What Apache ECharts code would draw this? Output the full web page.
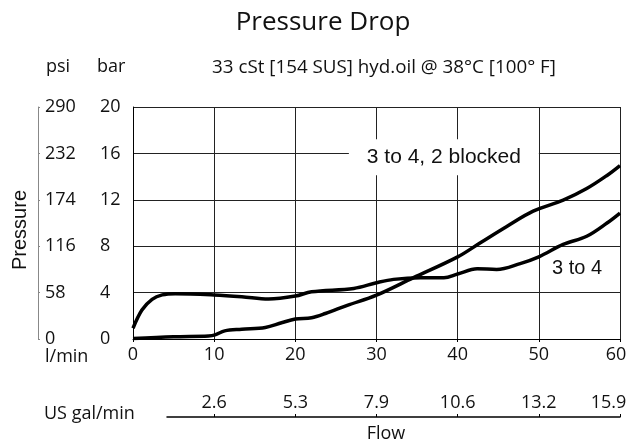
<!DOCTYPE html>
<html><head><meta charset="utf-8">
<script src="https://cdn.jsdelivr.net/npm/echarts@6/dist/echarts.min.js"></script>
<style>html,body{margin:0;padding:0;background:#fff}#c{width:628px;height:443px}</style>
</head><body><div id="c"></div>
<script>
// ---- data ----
const galTickFlow = [10, 20, 30, 40, 50, 60];
const galLabels = ['2.6', '5.3', '7.9', '10.6', '13.2', '15.9'];
const psiLabels = ['0', '58', '116', '174', '232', '290'];
const seriesNames = ['3 to 4, 2 blocked', '3 to 4'];
// flow (l/min), pressure (bar)
const blocked = [[0,0.05],[5,0.2],[9.3,0.26],[10.1,0.35],[11.3,0.7],[13.4,0.84],[16.3,1.0],[18.3,1.4],[20,1.72],[22,1.84],[23.7,2.2],[26.4,2.9],[30,3.78],[34.5,5.27],[40,7.08],[42.8,8.3],[46,9.68],[49.3,11.02],[53,11.97],[55.9,12.97],[58.4,14.1],[60,14.95]];
const open34 = [[0,0.93],[1.1,2.5],[2.35,3.42],[3.6,3.8],[5.2,3.9],[10,3.8],[13.4,3.65],[16.7,3.45],[20,3.7],[22,4.07],[27.2,4.36],[30,4.85],[32.1,5.14],[35.4,5.28],[38.3,5.28],[40,5.6],[42.4,6.05],[44.8,6.0],[47.7,6.5],[50,7.08],[53,8.15],[55.9,8.86],[58.4,10.0],[60,10.86]];

const F = '"Open Sans", sans-serif';
const A = '"Liberation Sans", Arial, sans-serif';
const mainLeft = 133, plotRight = 620, galLeft = 167;
const galMin = (galLeft - mainLeft) / (plotRight - mainLeft) * 60;

const chart = echarts.init(document.getElementById('c'), null, {renderer: 'canvas'});
const gridColor = '#222';
chart.setOption({
  animation: false,
  grid: [
    {left: mainLeft, right: 628 - plotRight, top: 107, bottom: 104, containLabel: false, outerBoundsMode: 'none'},
    {left: galLeft, right: 628 - plotRight, top: 417, bottom: 25, containLabel: false, outerBoundsMode: 'none'}
  ],
  xAxis: [
    {type: 'value', gridIndex: 0, min: 0, max: 60, interval: 10,
     axisLine: {show: true, lineStyle: {color: '#000', width: 1}},
     axisTick: {show: true, length: 3, lineStyle: {color: '#000'}},
     axisLabel: {margin: 7, color: '#111', fontFamily: F, fontSize: 18,
       formatter: v => v === 60 ? v + '{p|}' : String(v), rich: {p: {width: 8}}},
     splitLine: {show: true, lineStyle: {color: gridColor, width: 1}}},
    {type: 'value', gridIndex: 1, position: 'top', min: galMin, max: 60,
     axisLine: {show: true, onZero: false, lineStyle: {color: '#000', width: 1.5}},
     axisTick: {show: true, length: 3, customValues: galTickFlow, lineStyle: {color: '#000'}},
     axisLabel: {margin: 5, color: '#111', fontFamily: F, fontSize: 18, customValues: galTickFlow,
       rich: {p: {width: 23}},
       formatter: v => { const i = galTickFlow.indexOf(Math.round(v)); if (i < 0) return ''; return i === galLabels.length - 1 ? galLabels[i] + '{p|}' : galLabels[i]; }},
     splitLine: {show: false}}
  ],
  yAxis: [
    {type: 'value', gridIndex: 0, position: 'left', min: 0, max: 20, interval: 4,
     axisLine: {show: true, lineStyle: {color: '#000', width: 1}},
     axisTick: {show: false},
     axisLabel: {margin: 33, align: 'left', color: '#111', fontFamily: F, fontSize: 18},
     splitLine: {show: true, lineStyle: {color: gridColor, width: 1}}},
    {type: 'value', gridIndex: 0, position: 'left', offset: 95, min: 0, max: 290, interval: 58,
     axisLine: {show: true, lineStyle: {color: '#888', width: 1}},
     axisTick: {show: true, inside: true, length: 2, lineStyle: {color: '#888'}},
     axisLabel: {inside: true, margin: 7, color: '#111', fontFamily: F, fontSize: 18,
       formatter: v => psiLabels[Math.round(v / 58)]},
     splitLine: {show: false}},
    {type: 'value', gridIndex: 1, min: 0, max: 1, show: false}
  ],
  series: [
    {name: seriesNames[0], type: 'line', xAxisIndex: 0, yAxisIndex: 0, data: blocked,
     smooth: 0.35, showSymbol: false, lineStyle: {color: '#000', width: 3.5}, z: 3,
     markPoint: {symbol: 'rect', symbolSize: [190, 36], itemStyle: {color: '#fff'}, silent: true,
       label: {show: true, position: 'inside', color: '#111', fontFamily: A, fontSize: 21, formatter: seriesNames[0]},
       data: [{coord: [38.3, 15.67]}]}},
    {name: seriesNames[1], type: 'line', xAxisIndex: 0, yAxisIndex: 0, data: open34,
     smooth: 0.35, showSymbol: false, lineStyle: {color: '#000', width: 3.5}, z: 3,
     markPoint: {symbol: 'rect', symbolSize: [1, 1], itemStyle: {color: 'rgba(0,0,0,0)'}, silent: true,
       label: {show: true, position: 'inside', color: '#111', fontFamily: A, fontSize: 20, formatter: seriesNames[1]},
       data: [{coord: [54.7, 6.1]}]}}
  ],
  graphic: [
    {type: 'text', x: 323, y: 23, style: {text: 'Pressure Drop', font: '26px ' + F, fill: '#111', textAlign: 'center', textVerticalAlign: 'middle'}},
    {type: 'text', x: 384, y: 68, style: {text: '33 cSt [154 SUS] hyd.oil @ 38°C [100° F]', font: '18.8px ' + F, fill: '#111', textAlign: 'center', textVerticalAlign: 'middle'}},
    {type: 'text', x: 46, y: 67, style: {text: 'psi', font: '18px ' + F, fill: '#111', textAlign: 'left', textVerticalAlign: 'middle'}},
    {type: 'text', x: 97, y: 67, style: {text: 'bar', font: '18px ' + F, fill: '#111', textAlign: 'left', textVerticalAlign: 'middle'}},
    {type: 'text', x: 20, y: 230, rotation: Math.PI / 2, style: {text: 'Pressure', font: '20px ' + A, fill: '#111', textAlign: 'center', textVerticalAlign: 'middle'}},
    {type: 'text', x: 45, y: 357, style: {text: 'l/min', font: '18px ' + F, fill: '#111', textAlign: 'left', textVerticalAlign: 'middle'}},
    {type: 'text', x: 44, y: 414, style: {text: 'US gal/min', font: '18px ' + F, fill: '#111', textAlign: 'left', textVerticalAlign: 'middle'}},
    {type: 'text', x: 386, y: 434, style: {text: 'Flow', font: '18px ' + F, fill: '#111', textAlign: 'center', textVerticalAlign: 'middle'}}
  ]
});
</script></body></html>
